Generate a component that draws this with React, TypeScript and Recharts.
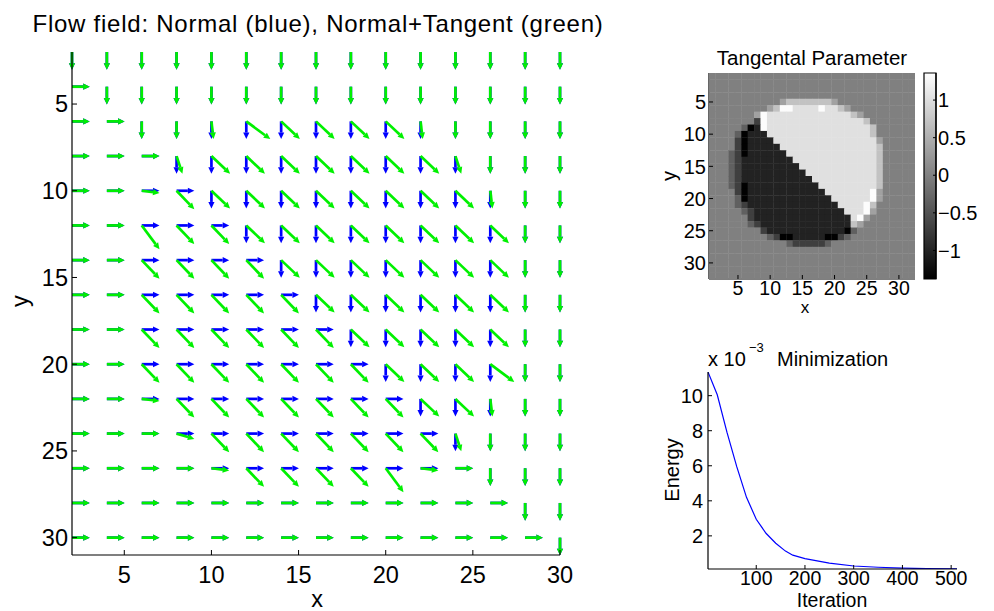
import React from "react";
import {
  ScatterChart,
  Scatter,
  LineChart,
  Line,
  XAxis,
  YAxis,
  ReferenceLine,
  ReferenceArea,
} from "recharts";

const FONT = '"Liberation Sans", Arial, Helvetica, sans-serif';
const BLUE = "#0000ff";
const GREEN = "#00f000";

// ---- flow field (quiver) ----
const flowX = [2, 4, 6, 8, 10, 12, 14, 16, 18, 20, 22, 24, 26, 28, 30];
const flowY = [2, 4, 6, 8, 10, 12, 14, 16, 18, 20, 22, 24, 26, 28, 30];
const flowTicks = [5, 10, 15, 20, 25, 30];

// one letter per grid point, rows y = 2..30, columns x = 2..30
const flowRows = [
  "DDDDDDDDDDDDDDD",
  "RDDDDDDDDDDDDDD",
  "RRDDdnNNNNdDDDD",
  "RRRpNNNNNNNpDDD",
  "RRrENNNNNNNNdDD",
  "RReEENNNNNNNNDD",
  "RREEEENNNNNNNDD",
  "RREEEEENNNNNNDD",
  "RREEEEEENNNNNDD",
  "RREEEEEEENNNnDD",
  "RRrEEEEEEENNdDD",
  "RRRqEEEEEEEpDDD",
  "RRRRrEEEEerRDDD",
  "RRRRRRRRRRRRRDD",
  "RRRRRRRRRRRRRRD",
];

// normal direction (down / right) and tangent weight for each letter
const arrowCodes: Record<string, { dir: "D" | "R"; t: number }> = {
  D: { dir: "D", t: 0 },
  R: { dir: "R", t: 0 },
  d: { dir: "D", t: 0.12 },
  r: { dir: "R", t: -0.12 },
  p: { dir: "D", t: 0.33 },
  q: { dir: "R", t: -0.3 },
  N: { dir: "D", t: 1.05 },
  n: { dir: "D", t: 1.35 },
  E: { dir: "R", t: -1.05 },
  e: { dir: "R", t: -1.35 },
};
const arrowLength = 1.02;

// ---- tangent parameter image (32 x 32) ----
const tangentLevels: Record<string, number> = {
  ".": 0,
  a: 0.35,
  b: 0.7,
  W: 1.03,
  X: 1.33,
  "1": -0.35,
  "2": -0.7,
  K: -1.02,
  Z: -1.37,
};
const tangentRows = [
  "................................",
  "................................",
  "................................",
  "................................",
  "...........abbbbbbba............",
  ".........abXXWWWWXWWba..........",
  ".......aXWWWWWWWWWWWWWba........",
  ".......2XWWWWWWWWWWWWWWWb.......",
  ".....1ZKXWWWWWWWWWWWWWWWWb......",
  "....1ZKKKWWWWWWWWWWWWWWWWb......",
  "....2ZKKKKWWWWWWWWWWWWWWWWa.....",
  "....2ZKKKKKWWWWWWWWWWWWWWWb.....",
  "...12ZKKKKKKWWWWWWWWWWWWWWb.....",
  "...12KKKKKKKKWWWWWWWWWWWWWb.....",
  "...12KKKKKKKKKWWWWWWWWWWWWb.....",
  "...12KKKKKKKKKKWWWWWWWWWWWb.....",
  "...12KKKKKKKKKKKWWWWWWWWWWb.....",
  "...12ZKKKKKKKKKKKWWWWWWWWWb.....",
  "....2ZKKKKKKKKKKKKWWWWWWWXa.....",
  "....1ZKKKKKKKKKKKKKWWWWWWXa.....",
  "....12KKKKKKKKKKKKKKWWWWXb......",
  ".....12KKKKKKKKKKKKKKWWWXa......",
  "......2KKKKKKKKKKKKKKKWXa.......",
  "......12KKKKKKKKKKKKKKba........",
  "........2KKKKKKKKKKKKZ1.........",
  ".........12ZZKKKKKZZ21..........",
  "............1222221.............",
  "................................",
  "................................",
  "................................",
  "................................",
  "................................",
];
const colorLimits = [-1.38, 1.36];
const imageTicks = [5, 10, 15, 20, 25, 30];
const colorbarTicks = [-1, -0.5, 0, 0.5, 1];

// ---- minimization ----
const iterations = [1, 20, 40, 60, 80, 100, 120, 140, 160, 175, 200, 250, 300, 350, 400, 450, 512];
const energy = [
  0.01135, 0.01005, 0.0079, 0.00595, 0.0042, 0.00295, 0.00215, 0.00158, 0.00113,
  0.0009, 0.0007, 0.00045, 0.00028, 0.00021, 0.00016, 0.00013, 0.00012,
];
const iterationTicks = [100, 200, 300, 400, 500];
const energyTicks = [0.002, 0.004, 0.006, 0.008, 0.01];

// ---- derived tables ----
type Arrow = { x: number; y: number; u: number; v: number };
const blueArrows: Arrow[] = [];
const greenArrows: Arrow[] = [];
flowRows.forEach((row, j) => {
  row.split("").forEach((c, i) => {
    const { dir, t } = arrowCodes[c] || arrowCodes.D;
    const nx = dir === "R" ? arrowLength : 0;
    const ny = dir === "D" ? arrowLength : 0;
    blueArrows.push({ x: flowX[i], y: flowY[j], u: nx, v: ny });
    // normal plus tangent (normal turned a quarter turn, weighted by t)
    greenArrows.push({ x: flowX[i], y: flowY[j], u: nx + t * ny, v: ny - t * nx });
  });
});
const flowPoints = flowY.flatMap((y) => flowX.map((x) => ({ x, y })));

const imageCells = tangentRows.flatMap((row, j) =>
  row
    .padEnd(32, ".")
    .slice(0, 32)
    .split("")
    .map((c, i) => ({ x: i + 1, y: j + 1, v: tangentLevels[c] ?? 0 }))
);

const energyData = iterations.map((it, i) => ({ iteration: it, energy: energy[i] }));

// ---- helpers ----
const axisLine = { stroke: "#000", strokeWidth: 1.2 };

const fmtNum = (v: number) => (v < 0 ? "\u2212" + String(-v) : String(v));

function tickRenderer(
  side: "bottom" | "top" | "left" | "right",
  len: number,
  fontSize = 0,
  offset = 0,
  fmt: (v: number) => string = fmtNum
) {
  return (props: any) => {
    const { x, y, payload } = props;
    const label = fontSize ? fmt(payload.value) : null;
    const txt = (tx: number, ty: number, anchor: "start" | "middle" | "end") =>
      label === null ? null : (
        <text x={tx} y={ty} textAnchor={anchor} fontSize={fontSize} fontFamily={FONT} fill="#000">
          {label}
        </text>
      );
    if (side === "bottom")
      return (
        <g>
          <line x1={x} y1={y} x2={x} y2={y - len} stroke="#000" />
          {txt(x, y + offset, "middle")}
        </g>
      );
    if (side === "top")
      return <line x1={x} y1={y} x2={x} y2={y + len} stroke="#000" />;
    if (side === "left")
      return (
        <g>
          <line x1={x} y1={y} x2={x + len} y2={y} stroke="#000" />
          {txt(x - offset, y + fontSize * 0.36, "end")}
        </g>
      );
    return (
      <g>
        <line x1={x} y1={y} x2={x - len} y2={y} stroke="#000" />
        {txt(x + offset, y + fontSize * 0.36, "start")}
      </g>
    );
  };
}

const ArrowShape = (props: any) => {
  const { x1, y1, x2, y2, stroke } = props;
  const dx = x2 - x1;
  const dy = y2 - y1;
  const len = Math.hypot(dx, dy);
  if (!len) return <g />;
  const ux = dx / len;
  const uy = dy / len;
  const head = Math.min(6.5, len * 0.42);
  const bx = x2 - ux * head;
  const by = y2 - uy * head;
  const w = 3.1;
  return (
    <g>
      <line x1={x1} y1={y1} x2={bx} y2={by} stroke={stroke} strokeWidth={2.7} />
      <polygon
        points={`${x2},${y2} ${bx - uy * w},${by + ux * w} ${bx + uy * w},${by - ux * w}`}
        fill={stroke}
      />
    </g>
  );
};

const CELL = 206 / 32;
const HeatCell = (props: any) => {
  const { cx, cy, payload } = props;
  const level = (payload.v - colorLimits[0]) / (colorLimits[1] - colorLimits[0]);
  const g = Math.round(255 * Math.min(1, Math.max(0, level)));
  return (
    <rect
      x={cx - CELL / 2}
      y={cy - CELL / 2}
      width={CELL + 0.4}
      height={CELL + 0.4}
      fill={`rgb(${g},${g},${g})`}
    />
  );
};

const Nothing = () => <g />;

// ---- panels ----
function FlowField() {
  return (
    <ScatterChart width={600} height={611} margin={{ top: 52, right: 40, bottom: 0, left: 0 }}>
      <Scatter data={flowPoints} shape={Nothing} isAnimationActive={false} />
      {blueArrows.map((a, i) => (
        <ReferenceLine
          key={"b" + i}
          segment={[
            { x: a.x, y: a.y },
            { x: a.x + a.u, y: a.y + a.v },
          ]}
          stroke={BLUE}
          ifOverflow="visible"
          shape={ArrowShape}
        />
      ))}
      {greenArrows.map((a, i) => (
        <ReferenceLine
          key={"g" + i}
          segment={[
            { x: a.x, y: a.y },
            { x: a.x + a.u, y: a.y + a.v },
          ]}
          stroke={GREEN}
          ifOverflow="visible"
          shape={ArrowShape}
        />
      ))}
      <XAxis
        type="number"
        dataKey="x"
        domain={[2, 30]}
        allowDataOverflow
        ticks={flowTicks}
        interval={0}
        height={56}
        tickSize={0}
        tickMargin={0}
        tickLine={false}
        axisLine={axisLine}
        tick={tickRenderer("bottom", 5, 23.5, 28)}
      />
      <XAxis
        xAxisId="top"
        orientation="top"
        type="number"
        domain={[2, 30]}
        allowDataOverflow
        ticks={flowTicks}
        interval={0}
        height={0}
        tickSize={0}
        tickMargin={0}
        tickLine={false}
        axisLine={axisLine}
        tick={tickRenderer("top", 5)}
      />
      <YAxis
        type="number"
        dataKey="y"
        domain={[2, 31]}
        reversed
        allowDataOverflow
        ticks={flowTicks}
        interval={0}
        width={72}
        tickSize={0}
        tickMargin={0}
        tickLine={false}
        axisLine={axisLine}
        tick={tickRenderer("left", 5, 23.5, 4)}
      />
      <YAxis
        yAxisId="right"
        orientation="right"
        type="number"
        domain={[2, 31]}
        reversed
        allowDataOverflow
        ticks={flowTicks}
        interval={0}
        width={0}
        tickSize={0}
        tickMargin={0}
        tickLine={false}
        axisLine={axisLine}
        tick={tickRenderer("right", 5)}
      />
    </ScatterChart>
  );
}

function TangentImage() {
  return (
    <ScatterChart width={280} height={250} margin={{ top: 13, right: 15, bottom: 0, left: 0 }}>
      <Scatter data={imageCells} shape={HeatCell} isAnimationActive={false} />
      <XAxis
        type="number"
        dataKey="x"
        domain={[0.5, 32.5]}
        allowDataOverflow
        ticks={imageTicks}
        interval={0}
        height={31}
        tickSize={0}
        tickMargin={0}
        tickLine={false}
        axisLine={axisLine}
        tick={tickRenderer("bottom", 4, 19.5, 16)}
      />
      <XAxis
        xAxisId="top"
        orientation="top"
        type="number"
        domain={[0.5, 32.5]}
        allowDataOverflow
        ticks={imageTicks}
        interval={0}
        height={0}
        tickSize={0}
        tickMargin={0}
        tickLine={false}
        axisLine={axisLine}
        tick={tickRenderer("top", 4)}
      />
      <YAxis
        type="number"
        dataKey="y"
        domain={[0.5, 32.5]}
        reversed
        allowDataOverflow
        ticks={imageTicks}
        interval={0}
        width={59}
        tickSize={0}
        tickMargin={0}
        tickLine={false}
        axisLine={axisLine}
        tick={tickRenderer("left", 4, 20, 3)}
      />
      <YAxis
        yAxisId="right"
        orientation="right"
        type="number"
        domain={[0.5, 32.5]}
        reversed
        allowDataOverflow
        ticks={imageTicks}
        interval={0}
        width={0}
        tickSize={0}
        tickMargin={0}
        tickLine={false}
        axisLine={axisLine}
        tick={tickRenderer("right", 4)}
      />
    </ScatterChart>
  );
}

function ColorBar() {
  return (
    <ScatterChart width={74} height={250} margin={{ top: 13, right: 0, bottom: 31, left: 4 }}>
      <XAxis type="number" dataKey="x" domain={[0, 1]} hide />
      <YAxis
        type="number"
        dataKey="y"
        orientation="right"
        domain={colorLimits}
        allowDataOverflow
        ticks={colorbarTicks}
        interval={0}
        width={58}
        tickSize={0}
        tickMargin={0}
        tickLine={false}
        axisLine={axisLine}
        tick={tickRenderer("right", 3, 20, 2)}
      />
      <Scatter
        data={[
          { x: 0, y: colorLimits[0] },
          { x: 1, y: colorLimits[1] },
        ]}
        shape={Nothing}
        isAnimationActive={false}
      />
      <ReferenceArea
        x1={0}
        x2={1}
        y1={colorLimits[0]}
        y2={colorLimits[1]}
        fill="url(#grayBar)"
        fillOpacity={1}
        stroke="#000"
        strokeWidth={1.2}
        ifOverflow="visible"
      />
    </ScatterChart>
  );
}

function EnergyPlot() {
  return (
    <LineChart
      width={330}
      height={271}
      data={energyData}
      margin={{ top: 32, right: 23, bottom: 0, left: 0 }}
    >
      <Line
        type="linear"
        dataKey="energy"
        stroke={BLUE}
        strokeWidth={1.2}
        dot={false}
        isAnimationActive={false}
      />
      <XAxis
        type="number"
        dataKey="iteration"
        domain={[1, 512]}
        allowDataOverflow
        ticks={iterationTicks}
        interval={0}
        height={42}
        tickSize={0}
        tickMargin={0}
        tickLine={false}
        axisLine={axisLine}
        tick={tickRenderer("bottom", 4, 19.5, 16)}
      />
      <XAxis
        xAxisId="top"
        orientation="top"
        type="number"
        domain={[1, 512]}
        allowDataOverflow
        ticks={iterationTicks}
        interval={0}
        height={0}
        tickSize={0}
        tickMargin={0}
        tickLine={false}
        axisLine={axisLine}
        tick={tickRenderer("top", 4)}
      />
      <YAxis
        type="number"
        domain={[0.00011, 0.01135]}
        allowDataOverflow
        ticks={energyTicks}
        interval={0}
        width={58}
        tickSize={0}
        tickMargin={0}
        tickLine={false}
        axisLine={axisLine}
        tick={tickRenderer("left", 4, 20, 5, (v) => String(Math.round(v * 1000)))}
      />
      <YAxis
        yAxisId="right"
        orientation="right"
        type="number"
        domain={[0.00011, 0.01135]}
        allowDataOverflow
        ticks={energyTicks}
        interval={0}
        width={0}
        tickSize={0}
        tickMargin={0}
        tickLine={false}
        axisLine={axisLine}
        tick={tickRenderer("right", 4)}
      />
    </LineChart>
  );
}

export default function App() {
  return (
    <div
      style={{
        position: "absolute",
        left: 0,
        top: 0,
        width: 994,
        height: 611,
        background: "#fff",
        fontFamily: FONT,
      }}
    >
      <div style={{ position: "absolute", left: 0, top: 0 }}>
        <FlowField />
      </div>
      <div style={{ position: "absolute", left: 650, top: 60 }}>
        <TangentImage />
      </div>
      <div style={{ position: "absolute", left: 920, top: 60 }}>
        <ColorBar />
      </div>
      <div style={{ position: "absolute", left: 650, top: 340 }}>
        <EnergyPlot />
      </div>
      <svg
        width={994}
        height={611}
        style={{ position: "absolute", left: 0, top: 0, pointerEvents: "none" }}
        fontFamily={FONT}
        fill="#000"
      >
        <defs>
          <linearGradient id="grayBar" x1="0" y1="1" x2="0" y2="0">
            <stop offset="0" stopColor="#000" />
            <stop offset="1" stopColor="#fff" />
          </linearGradient>
        </defs>
        <text x={318} y={32} textAnchor="middle" fontSize={24} letterSpacing={0.75}>
          Flow field: Normal (blue), Normal+Tangent (green)
        </text>
        <text x={317} y={607} textAnchor="middle" fontSize={23.5}>
          x
        </text>
        <text transform="translate(28,301) rotate(-90)" textAnchor="middle" fontSize={23.5}>
          y
        </text>
        <text x={812} y={65} textAnchor="middle" fontSize={20.5}>
          Tangental Parameter
        </text>
        <text x={805} y={313} textAnchor="middle" fontSize={17}>
          x
        </text>
        <text transform="translate(676,176) rotate(-90)" textAnchor="middle" fontSize={20}>
          y
        </text>
        <text x={708} y={366} fontSize={20}>
          x 10
        </text>
        <text x={749} y={352} fontSize={13}>
          {"\u22123"}
        </text>
        <text x={777} y={366} fontSize={20}>
          Minimization
        </text>
        <text transform="translate(679,470) rotate(-90)" textAnchor="middle" fontSize={20}>
          Energy
        </text>
        <text x={832} y={607} textAnchor="middle" fontSize={19.5}>
          Iteration
        </text>
      </svg>
    </div>
  );
}
